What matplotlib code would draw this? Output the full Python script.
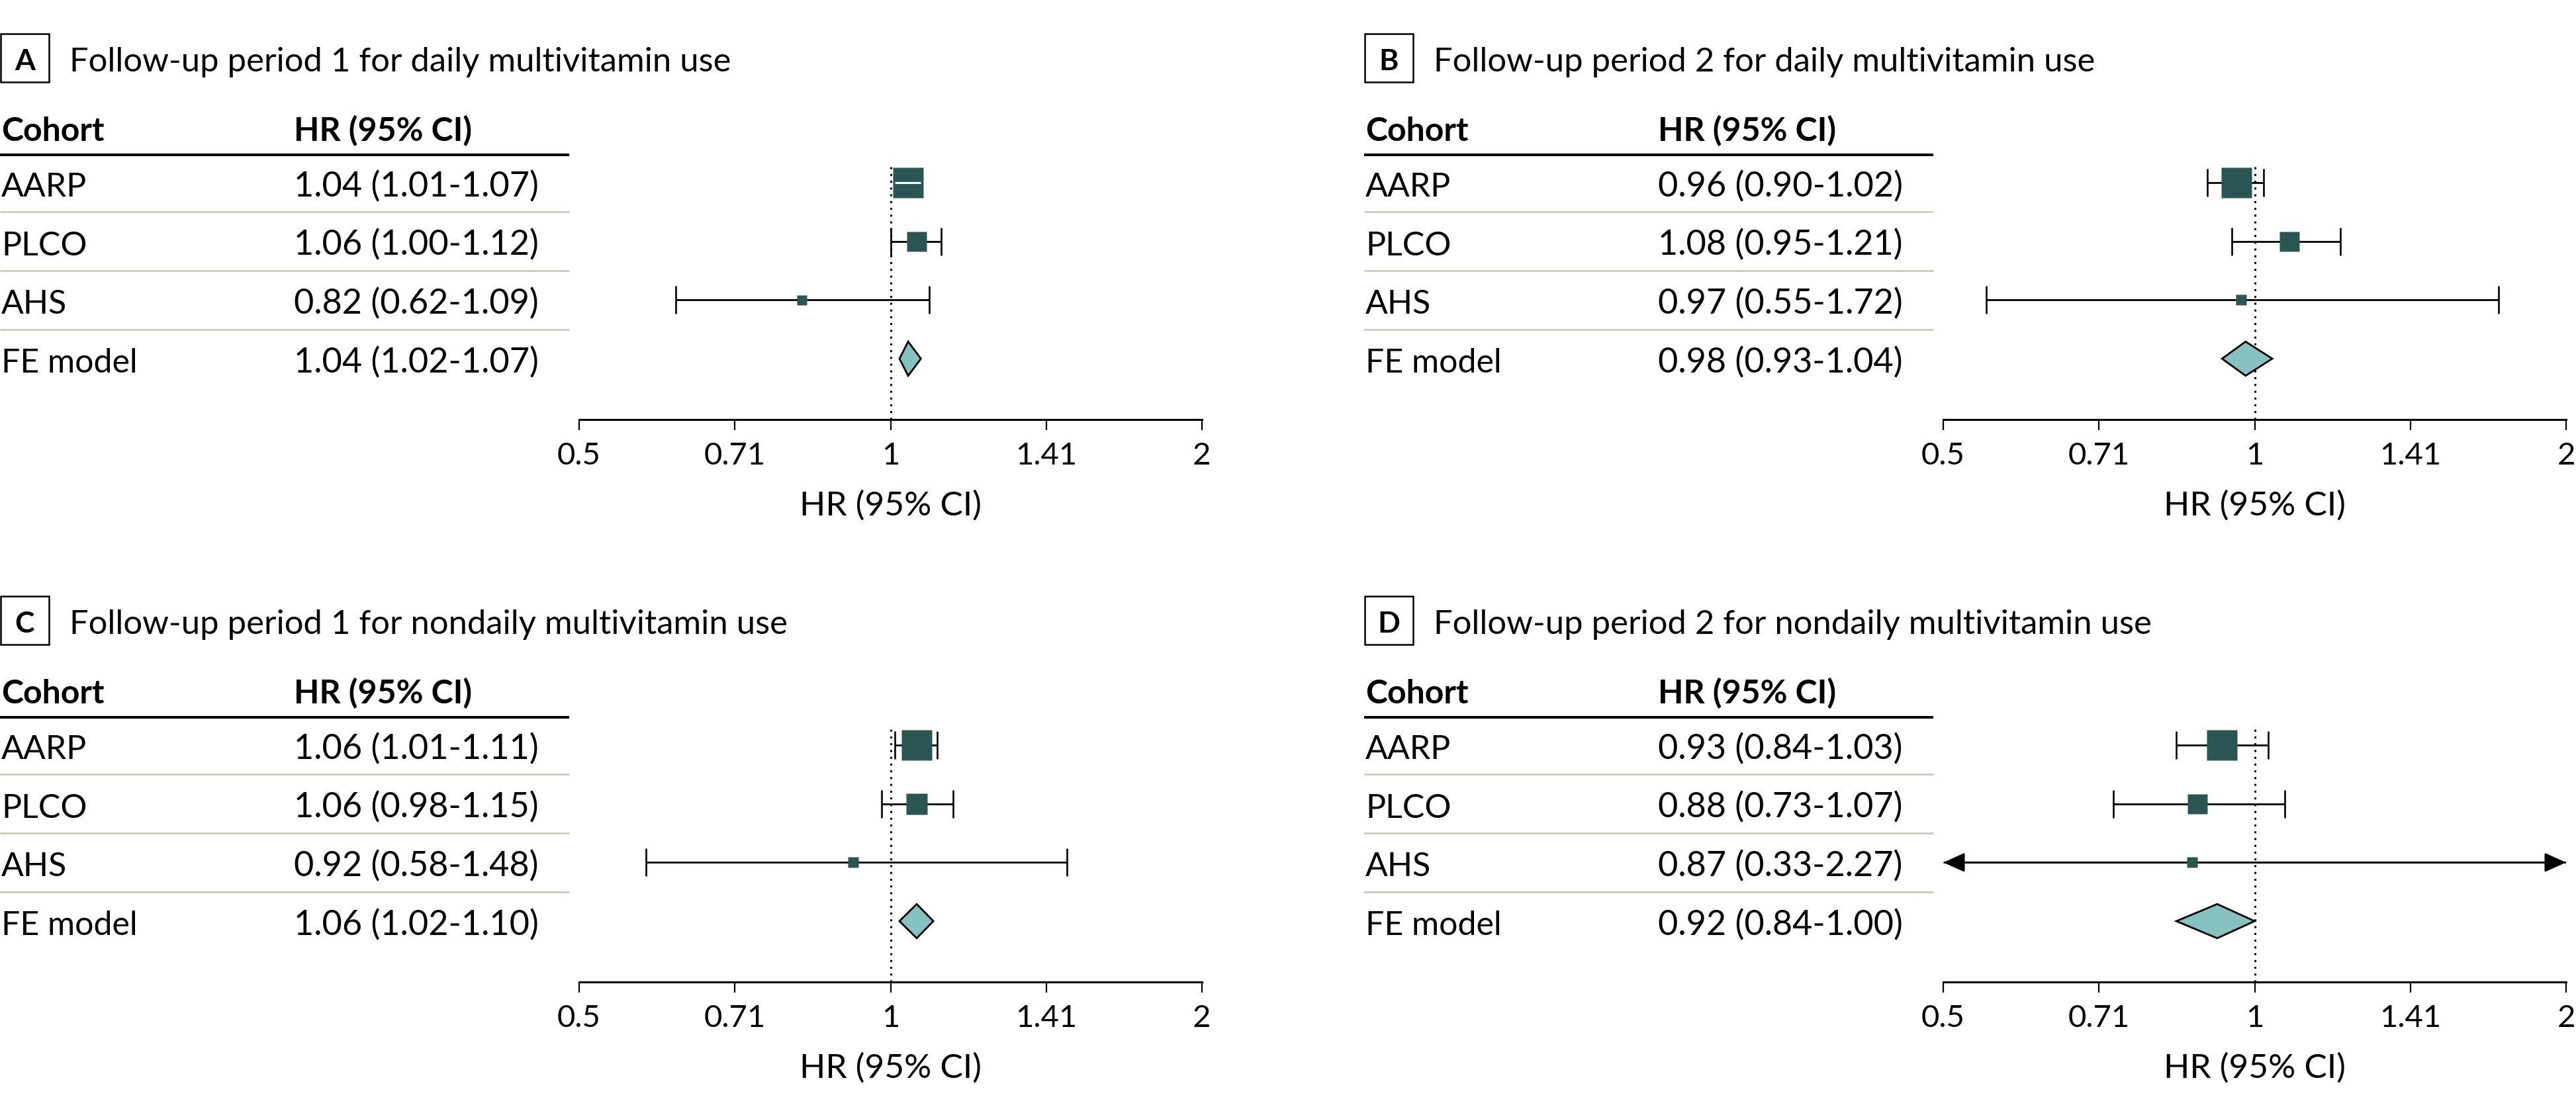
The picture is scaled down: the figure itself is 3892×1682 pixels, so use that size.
import numpy as np
import matplotlib.pyplot as plt
from matplotlib.patches import Rectangle, Polygon
from matplotlib.transforms import blended_transform_factory

plt.rcParams['font.family'] = ['Lato', 'DejaVu Sans']

cohorts = ["AARP", "PLCO", "AHS", "FE model"]

panel_letters = ["A", "B", "C", "D"]
panel_titles = [
    "Follow-up period 1 for daily multivitamin use",
    "Follow-up period 2 for daily multivitamin use",
    "Follow-up period 1 for nondaily multivitamin use",
    "Follow-up period 2 for nondaily multivitamin use",
]

# hazard ratios and 95% CI per panel (rows: AARP, PLCO, AHS, FE model)
hr_a = [1.04, 1.06, 0.82, 1.04]
lo_a = [1.01, 1.00, 0.62, 1.02]
hi_a = [1.07, 1.12, 1.09, 1.07]

hr_b = [0.96, 1.08, 0.97, 0.98]
lo_b = [0.90, 0.95, 0.55, 0.93]
hi_b = [1.02, 1.21, 1.72, 1.04]

hr_c = [1.06, 1.06, 0.92, 1.06]
lo_c = [1.01, 0.98, 0.58, 1.02]
hi_c = [1.11, 1.15, 1.48, 1.10]

hr_d = [0.93, 0.88, 0.87, 0.92]
lo_d = [0.84, 0.73, 0.33, 0.84]
hi_d = [1.03, 1.07, 2.27, 1.00]

tick_labels = ["0.5", "0.71", "1", "1.41", "2"]

panels = [(hr_a, lo_a, hi_a), (hr_b, lo_b, hi_b), (hr_c, lo_c, hi_c), (hr_d, lo_d, hi_d)]

# square sizes (px) roughly following study weights
box_px = [[47, 30, 15], [47, 30, 16], [47, 32, 16], [46, 30, 16]]

W, H = 3892, 1683
fig = plt.figure(figsize=(W / 100, H / 100), dpi=100)

dark = "#2b5553"
light = "#85c2c0"
sep_col = "#c9cbbd"
ROW = 88.67          # px per row
AX_W = 941           # axis width in px (0.5 .. 2)
PX_PER_LOG2 = AX_W / 2

for i in range(4):
    ox = [0, 2061][i % 2]
    oy = [0, 850][i // 2]
    hr, lo, hi = panels[i]

    ax = fig.add_axes([(875 + ox) / W, 1 - (635 + oy) / H, AX_W / W, 400 / H])
    ax.set_xscale('log', base=2)
    ax.set_xlim(0.5, 2)
    ax.set_ylim(-0.037, 4.474)
    x0, x1 = ax.get_xlim()
    rows = np.arange(len(cohorts), 0, -1)

    for s in ['top', 'right', 'left']:
        ax.spines[s].set_visible(False)
    ax.spines['bottom'].set_linewidth(2.2)
    ax.set_yticks([])
    ax.set_xticks(2.0 ** np.arange(-1, 1.5, 0.5))
    ax.set_xticklabels(tick_labels)
    ax.xaxis.set_minor_locator(plt.NullLocator())
    ax.tick_params(axis='x', direction='out', length=11.5, width=1.6,
                   labelsize=34, pad=12)

    tr = blended_transform_factory(fig.transFigure, ax.transData)
    tra = blended_transform_factory(ax.transAxes, ax.transData)

    # panel letter box and title
    ax.add_patch(Rectangle(((ox + 1) / W, 4 + (277 - 125) / ROW), 73 / W, 73 / ROW,
                           transform=tr, fill=False, lw=1.8, ec='black', clip_on=False))
    ax.text((ox + 37.5) / W, 4 + (277 - 106) / ROW, panel_letters[i], transform=tr,
            ha='center', va='baseline', fontsize=32, fontweight='bold')
    ax.text((ox + 105) / W, 4 + (277 - 108) / ROW, panel_titles[i], transform=tr,
            ha='left', va='baseline', fontsize=36.5)

    # table header
    ax.text((ox + 2) / W, 4 + (277 - 213) / ROW, "Cohort", transform=tr,
            ha='left', va='baseline', fontsize=36, fontweight='bold')
    ax.text((ox + 444) / W, 4 + (277 - 213) / ROW, "HR (95% CI)", transform=tr,
            ha='left', va='baseline', fontsize=36, fontweight='bold')
    ax.plot([ox / W, (ox + 860) / W], [ax.get_ylim()[1]] * 2, transform=tr,
            color='black', lw=2.9, clip_on=False, solid_capstyle='butt')
    for y in rows[1:]:
        ax.plot([ox / W, (ox + 860) / W], [y + 0.5] * 2, transform=tr,
                color=sep_col, lw=2, clip_on=False, solid_capstyle='butt')

    for j, name in enumerate(cohorts):
        y = rows[j]
        ax.text((ox + 2) / W, y - 20 / ROW, name, transform=tr,
                ha='left', va='baseline', fontsize=36)
        ax.text((ox + 444) / W, y - 20 / ROW, f"{hr[j]:.2f} ({lo[j]:.2f}-{hi[j]:.2f})",
                transform=tr, ha='left', va='baseline', fontsize=37.5)

    # reference line
    ax.plot([1, 1], [ax.get_ylim()[0], 4.28], color='black', lw=2.2,
            ls=(0, (1, 2.35)), zorder=1)

    # individual cohorts
    for j in range(3):
        y = rows[j]
        size = box_px[i][j]
        half = size / 2 / PX_PER_LOG2
        inside = (np.log2(hr[j] / lo[j]) < half) and (np.log2(hi[j] / hr[j]) < half)
        if inside:
            ax.plot(hr[j], y, marker='s', ms=size * 0.72, color=dark, mec='none', zorder=3)
            ax.plot([lo[j], hi[j]], [y, y], color='white', lw=2.2, zorder=4,
                    solid_capstyle='butt')
            continue
        a, b = max(lo[j], x0), min(hi[j], x1)
        ax.plot([a, b], [y, y], color='black', lw=2, zorder=2, solid_capstyle='butt')
        for end, lim in ((lo[j], x0), (hi[j], x1)):
            if (end < x0) or (end > x1):
                ax.annotate('', xy=(lim, y), xytext=(hr[j], y),
                            arrowprops=dict(arrowstyle='-|>,head_length=1.0,head_width=0.45',
                                            mutation_scale=20, lw=2, color='black',
                                            shrinkA=0, shrinkB=0),
                            annotation_clip=False, zorder=2)
            else:
                ax.plot([end, end], [y - 21 / ROW, y + 21 / ROW], color='black',
                        lw=1.9, zorder=2, solid_capstyle='butt')
        ax.plot(hr[j], y, marker='s', ms=size * 0.72, color=dark, mec='none', zorder=3)

    # pooled estimate
    y = rows[3]
    h = 25.8 / ROW
    ax.add_patch(Polygon([[lo[3], y], [hr[3], y + h], [hi[3], y], [hr[3], y - h]],
                         closed=True, fc=light, ec='black', lw=2, zorder=3))

    ax.text(0.5, 4 - (779 - 277) / ROW, "HR (95% CI)", transform=tra,
            ha='center', va='baseline', fontsize=37)

fig.savefig("out.png", dpi=100)
